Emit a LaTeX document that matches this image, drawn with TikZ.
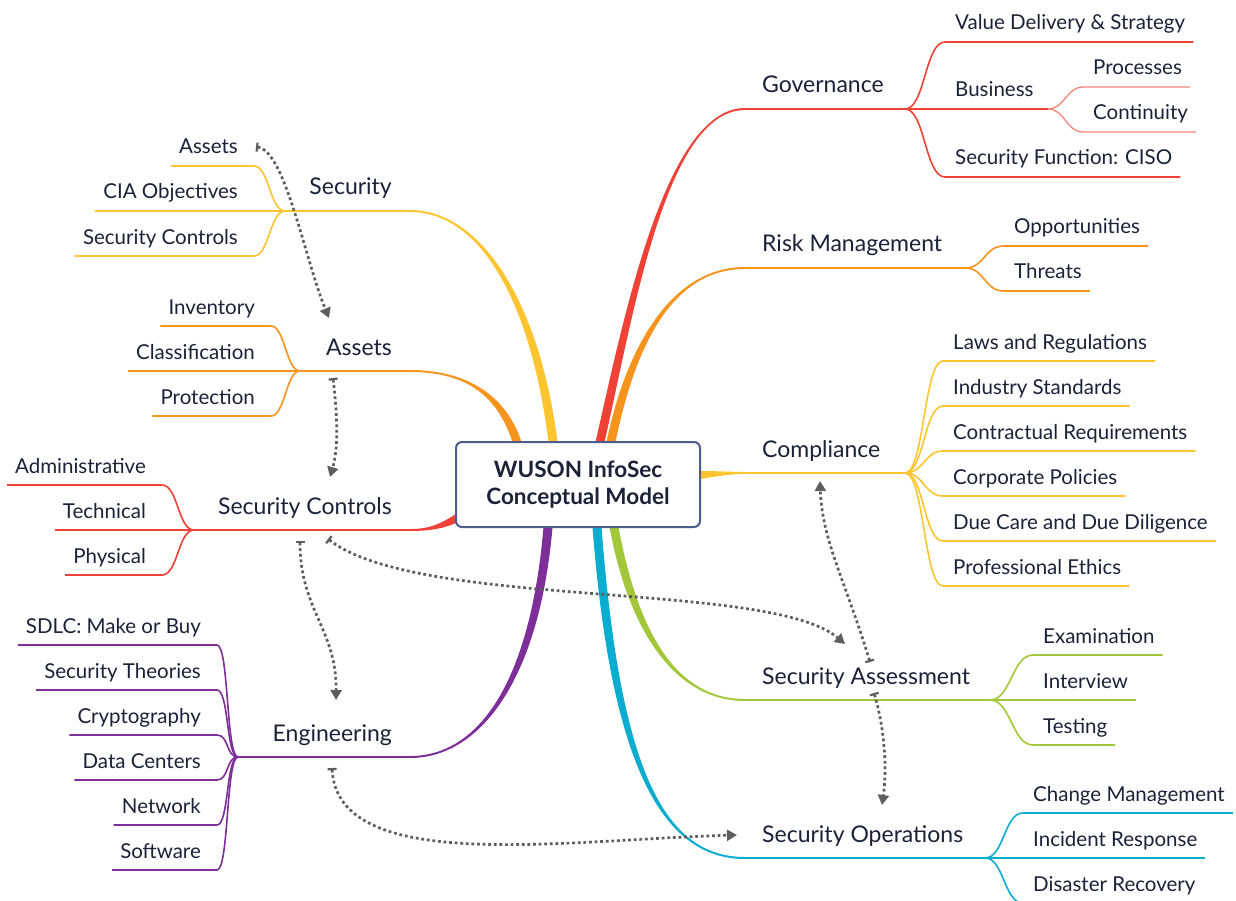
\documentclass[tikz,border=0pt]{standalone}
\usepackage{fontspec}
\setmainfont{Lato}
\usetikzlibrary{calc,arrows.meta}
\definecolor{cred}{HTML}{EF4136}
\definecolor{corange}{HTML}{F7941D}
\definecolor{cyellow}{HTML}{FFC530}
\definecolor{cgreen}{HTML}{A3C73B}
\definecolor{ccyan}{HTML}{0AADD0}
\definecolor{cpurple}{HTML}{7D2E99}
\definecolor{ctext}{HTML}{1B2238}
\definecolor{cbox}{HTML}{4C5C8C}
\definecolor{cdot}{HTML}{5E5E5E}
\tikzset{
  subtxt/.style={inner sep=0pt, text=ctext, font=\fontsize{20.5}{24}\selectfont},
  maintxt/.style={inner sep=0pt, text=ctext, font=\fontsize{23}{26}\selectfont},
  mainline/.style={line width=2pt},
  subline/.style={line width=1.6pt},
  dotlink/.style={draw=cdot, line width=2.7pt, dash pattern=on 2.8pt off 2.8pt,
    {Bar[width=9pt,line width=2.2pt]}-{Triangle[width=11pt,length=10pt]}},
}
% tapered main branch: color, start, c1, c2, end, signed end half-width
\newcommand{\mytaper}[6]{%
  \fill[#1] ($(#2)+(4.5,0)$) .. controls ($(#3)+(4.5,0)$) and ($(#4)+(0,#6)$) .. ($(#5)+(0,#6)$)
    -- ($(#5)-(0,#6)$) .. controls ($(#4)-(0,#6)$) and ($(#3)-(4.5,0)$) .. ($(#2)-(4.5,0)$) -- cycle;}
% right sub item: name, branch, x, underline y, text, style, h
\newcommand{\rsub}[7]{%
  \node[subtxt, anchor=base west] (#1) at (#3,#4-12) {#5};
  \draw[#6] (#2) .. controls +(#7,0) and +(-#7,0) .. ($(#1.base west)+(-10,12)$) -- ($(#1.base east)+(8,12)$);}
% left sub item: name, branch, right x, underline y, text, style, h
\newcommand{\lsub}[7]{%
  \node[subtxt, anchor=base east] (#1) at (#3,#4-12) {#5};
  \draw[#6] (#2) .. controls +(-#7,0) and +(#7,0) .. ($(#1.base east)+(16,12)$) -- ($(#1.base west)+(-8,12)$);}
\begin{document}
\begin{tikzpicture}[x=1pt,y=-1pt]
\useasboundingbox[fill=white] (0,0) rectangle (1236,901);

% ---- tapered branches from the root
\mytaper{cred}{600,442}{628,320}{665,109}{745,109}{1}
\mytaper{corange}{611,442}{630,350}{670,268}{745,268}{1}
\mytaper{cyellow}{553,442}{535,300}{480,211}{410,211}{-1}
\mytaper{corange}{517,442}{500,390}{460,371}{410,371}{-1}
\mytaper{cgreen}{614,527}{635,640}{680,700}{745,700}{-1}
\mytaper{ccyan}{597,527}{615,760}{660,858}{745,858}{-1}
\mytaper{cpurple}{548,527}{535,680}{480,757}{410,757}{1}
\fill[cyellow] (700,471) .. controls (720,471) and (730,472) .. (745,472) -- (745,474) .. controls (730,474) and (720,476) .. (700,479) -- cycle;
\fill[cred] (456,514) .. controls (440,524) and (430,529) .. (410,529) -- (410,531) .. controls (432,531) and (444,528) .. (456,523) -- cycle;

% ---- root
\node[draw=cbox, line width=2pt, rounded corners=6pt, fill=white, minimum width=244pt,
  minimum height=85pt, align=center, text=ctext, font=\fontsize{22.5}{27}\selectfont\bfseries]
  (root) at (578,484.5) {WUSON InfoSec\\Conceptual Model};

% ---- branch points
\coordinate (govL) at (745,109);  \coordinate (govB) at (905,109);
\coordinate (busB) at (1048,109);
\coordinate (riskL) at (745,268); \coordinate (riskB) at (965,268);
\coordinate (compL) at (745,473); \coordinate (compB) at (905,473);
\coordinate (assL) at (745,700);  \coordinate (assB) at (990,700);
\coordinate (opsL) at (745,858);  \coordinate (opsB) at (985,858);
\coordinate (secL) at (410,211);  \coordinate (secB) at (285,211);
\coordinate (astL) at (410,371);  \coordinate (astB) at (300,371);
\coordinate (scL) at (410,530);   \coordinate (scB) at (194,530);
\coordinate (engL) at (410,757);  \coordinate (engB) at (238,757);

% ---- main labels and lines
\node[maintxt, anchor=base west] (gov) at (762,93) {Governance};
\node[maintxt, anchor=base west] (risk) at (762,252) {Risk Management};
\node[maintxt, anchor=base west] (comp) at (762,457) {Compliance};
\node[maintxt, anchor=base west] (ass) at (762,684) {Security Assessment};
\node[maintxt, anchor=base west] (ops) at (762,842) {Security Operations};
\node[maintxt, anchor=base east] (sec) at (392,195) {Security};
\node[maintxt, anchor=base east] (ast) at (392,355) {Assets};
\node[maintxt, anchor=base east] (sc) at (392,514) {Security Controls};
\node[maintxt, anchor=base east] (eng) at (392,741) {Engineering};
\draw[cred, mainline] (govL) -- (govB);
\draw[corange, mainline] (riskL) -- (riskB);
\draw[cyellow, mainline] (compL) -- (compB);
\draw[cgreen, mainline] (assL) -- (assB);
\draw[ccyan, mainline] (opsL) -- (opsB);
\draw[cyellow, mainline] (secL) -- (secB);
\draw[corange, mainline] (astL) -- (astB);
\draw[cred, mainline] (scL) -- (scB);
\draw[cpurple, mainline] (engL) -- (engB);

% ---- Governance
\rsub{gv1}{govB}{955}{42}{Value Delivery \& Strategy}{cred, subline}{20}
\node[subtxt, anchor=base west] (gv2) at (955,97) {Business};
\draw[cred, subline] (govB) -- (busB);
\rsub{gv3}{govB}{955}{177}{Security Function: CISO}{cred, subline}{20}
\rsub{bu1}{busB}{1093}{87}{Processes}{cred!65, line width=1.3pt}{17}
\rsub{bu2}{busB}{1093}{132}{Continuity}{cred!65, line width=1.3pt}{17}
% ---- Risk
\rsub{rk1}{riskB}{1014}{246}{Opportunities}{corange, subline}{20}
\rsub{rk2}{riskB}{1014}{291}{Threats}{corange, subline}{20}
% ---- Compliance
\rsub{cp1}{compB}{953}{361}{Laws and Regulations}{cyellow, subline}{19}
\rsub{cp2}{compB}{953}{406}{Industry Standards}{cyellow, subline}{19}
\rsub{cp3}{compB}{953}{451}{Contractual Requirements}{cyellow, subline}{19}
\rsub{cp4}{compB}{953}{496}{Corporate Policies}{cyellow, subline}{19}
\rsub{cp5}{compB}{953}{541}{Due Care and Due Diligence}{cyellow, subline}{19}
\rsub{cp6}{compB}{953}{586}{Professional Ethics}{cyellow, subline}{19}
% ---- Security Assessment
\rsub{sa1}{assB}{1043}{655}{Examination}{cgreen, subline}{21}
\rsub{sa2}{assB}{1043}{700}{Interview}{cgreen, subline}{21}
\rsub{sa3}{assB}{1043}{745}{Testing}{cgreen, subline}{21}
% ---- Security Operations
\rsub{so1}{opsB}{1033}{813}{Change Management}{ccyan, subline}{19}
\rsub{so2}{opsB}{1033}{858}{Incident Response}{ccyan, subline}{19}
\rsub{so3}{opsB}{1033}{903}{Disaster Recovery}{ccyan, subline}{19}
% ---- Security
\lsub{se1}{secB}{238}{166}{Assets}{cyellow, subline}{15}
\lsub{se2}{secB}{238}{211}{CIA Objectives}{cyellow, subline}{15}
\lsub{se3}{secB}{238}{256}{Security Controls}{cyellow, subline}{15}
% ---- Assets
\lsub{as1}{astB}{255}{326}{Inventory}{corange, subline}{14}
\lsub{as2}{astB}{255}{371}{Classification}{corange, subline}{14}
\lsub{as3}{astB}{255}{416}{Protection}{corange, subline}{14}
% ---- Security Controls
\lsub{sc1}{scB}{146}{485}{Administrative}{cred, subline}{16}
\lsub{sc2}{scB}{146}{530}{Technical}{cred, subline}{16}
\lsub{sc3}{scB}{146}{575}{Physical}{cred, subline}{16}
% ---- Engineering
\lsub{en1}{engB}{201}{645}{SDLC: Make or Buy}{cpurple, subline}{12}
\lsub{en2}{engB}{201}{690}{Security Theories}{cpurple, subline}{12}
\lsub{en3}{engB}{201}{735}{Cryptography}{cpurple, subline}{12}
\lsub{en4}{engB}{201}{780}{Data Centers}{cpurple, subline}{12}
\lsub{en5}{engB}{201}{825}{Network}{cpurple, subline}{12}
\lsub{en6}{engB}{201}{870}{Software}{cpurple, subline}{12}

% ---- dotted relation links
\coordinate (d1s) at (256,147); \coordinate (d1e) at (329,318);
\coordinate (d2s) at (333,378); \coordinate (d2e) at (330,477);
\coordinate (d3s) at (300,541); \coordinate (d3e) at (336,700);
\coordinate (d4s) at (328,539); \coordinate (d4e) at (845,644);
\coordinate (d5s) at (870,662); \coordinate (d5e) at (820,481);
\coordinate (d6s) at (874,693); \coordinate (d6e) at (882,805);
\coordinate (d7s) at (332,768); \coordinate (d7e) at (737,835);
\draw[dotlink] (d1s) .. controls (285,150) and (305,260) .. (d1e);
\draw[dotlink] (d2s) .. controls (338,420) and (338,450) .. (d2e);
\draw[dotlink] (d3s) .. controls (300,610) and (337,630) .. (d3e);
\draw[dotlink] (d4s) .. controls (420,610) and (770,580) .. (d4e);
\draw[dotlink] (d5s) .. controls (845,580) and (822,540) .. (d5e);
\draw[dotlink] (d6s) .. controls (885,730) and (887,770) .. (d6e);
\draw[dotlink] (d7s) .. controls (338,875) and (560,840) .. (d7e);
\end{tikzpicture}
\end{document}
